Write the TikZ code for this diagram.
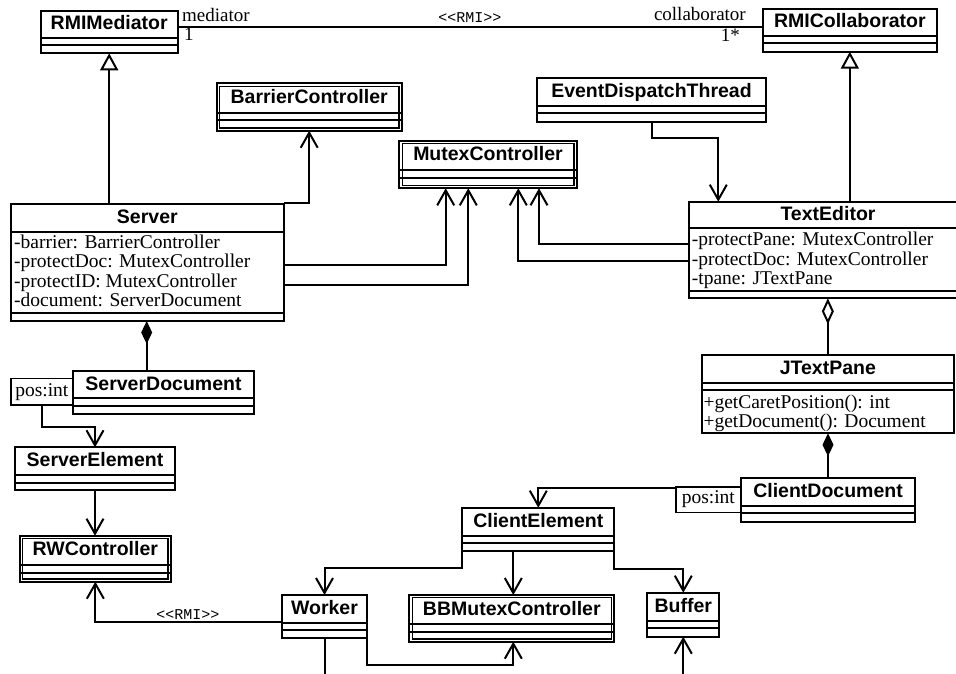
\documentclass[tikz,border=0pt]{standalone}
\usepackage{fontspec}
\setmainfont{Liberation Serif}
\setsansfont{Liberation Sans}
\setmonofont{Liberation Mono}
\usetikzlibrary{arrows.meta}

% class box: name, left, top, right, bottom, first separator y, second separator y, title
\newcommand\umlclass[8]{%
  \node[classframe, minimum width={#4-#2}, minimum height={#5-#3}]
    (#1) at ({(#2+#4)/2},{(#3+#5)/2}) {};
  \draw[compsep] (#2,#6) -- (#4,#6);
  \draw[compsep] (#2,#7) -- (#4,#7);
  \node[ctitle] (#1-title) at ({(#2+#4)/2},{(#3+#6)/2+5.5}) {#8};
}
% active class: same box with a second, inner border
\newcommand\umlactive[8]{%
  \umlclass{#1}{#2}{#3}{#4}{#5}{#6}{#7}{#8}%
  \draw[line width=1.2] ([shift={(2.8,2.8)}]#1.north west) rectangle ([shift={(-2.8,-2.8)}]#1.south east);
}

\tikzset{
  classframe/.style={draw, line width=2.2, rectangle, inner sep=0, outer sep=0},
  compsep/.style={line width=2},
  ctitle/.style={font=\sffamily\bfseries\fontsize{19.5}{19.5}\selectfont, inner sep=0, anchor=base},
  member/.style={font=\fontsize{19.5}{19.5}\selectfont, inner sep=0, anchor=base west},
  rolelabel/.style={font=\fontsize{19}{19}\selectfont, inner sep=0},
  stereo/.style={font=\ttfamily\fontsize{15}{15}\selectfont, inner sep=0, anchor=base},
  qualbox/.style={draw, line width=1.6, inner sep=0, outer sep=0, font=\fontsize{19.5}{19.5}\selectfont},
  link/.style={line width=2},
  assoc/.style={link, -{Straight Barb[length=15pt,width=17pt]}},
  gen/.style={link, -{Triangle[open,length=17pt,width=18pt]}},
  comp/.style={link, -{Diamond[length=23pt,width=11pt]}},
  aggr/.style={link, -{Diamond[open,length=26pt,width=12pt]}},
}

\begin{document}
\begin{tikzpicture}[x=1pt,y=-1pt]
\clip (0,0) rectangle (956,673);
\fill[white] (0,0) rectangle (956,673);

% ---- classes ----
\umlclass{rmimed}{40.7}{10.7}{177.7}{53.3}{37.7}{45.3}{RMIMediator}
\umlclass{rmicol}{762.7}{9}{937}{51.7}{35.7}{43.3}{RMICollaborator}
\umlactive{barrier}{216.7}{83.3}{401.7}{130.7}{112.7}{120.3}{BarrierController}
\umlactive{mutex}{399.3}{140.7}{576.7}{188.3}{170}{178.3}{MutexController}
\umlclass{edt}{537.3}{78.3}{765.7}{121.7}{106}{113.3}{EventDispatchThread}
\umlclass{srv}{10.7}{204}{284}{321}{232.3}{313.3}{Server}
\umlclass{ted}{689}{201.7}{967}{298.3}{228.3}{291}{TextEditor}
\umlclass{sdoc}{72.7}{370.7}{254.3}{414}{398.3}{406}{ServerDocument}
\umlclass{selem}{15}{447.3}{175}{490}{475}{482.7}{ServerElement}
\umlactive{rw}{20}{535.7}{170.7}{581.7}{565}{572.7}{RWController}
\umlclass{jtp}{701.7}{355}{954}{433.3}{382.7}{390}{JTextPane}
\umlclass{cdoc}{741}{478.3}{915}{521.7}{505.7}{513.3}{ClientDocument}
\umlclass{celem}{462.3}{507.7}{614.3}{550.7}{536}{543.3}{ClientElement}
\umlclass{wk}{282.3}{595}{366.7}{638.3}{622.7}{630}{Worker}
\umlactive{bbm}{409.3}{595}{614.3}{641.7}{624}{632.3}{BBMutexController}
\umlclass{buf}{647.3}{592.7}{719.3}{636.7}{621}{628.3}{Buffer}

% ---- members ----
\node[member] (srv-a1) at (14,248.3) {-barrier: BarrierController};
\node[member] (srv-a2) at (14,267.7) {-protectDoc: MutexController};
\node[member] (srv-a3) at (14,287) {-protectID: MutexController};
\node[member] (srv-a4) at (14,306.5) {-document: ServerDocument};

\node[member] (ted-a1) at (691.7,245.5) {-protectPane: MutexController};
\node[member] (ted-a2) at (691.7,265) {-protectDoc: MutexController};
\node[member] (ted-a3) at (691.7,284.5) {-tpane: JTextPane};

\node[member] (jtp-o1) at (703.3,408.3) {+getCaretPosition(): int};
\node[member] (jtp-o2) at (703.3,427.3) {+getDocument(): Document};

% ---- qualifiers ----
\node[qualbox, minimum width=61.7, minimum height=26.7] (qs) at (41.85,391.65) {pos:int};
\node[qualbox, minimum width=65.3, minimum height=25.6] (qc) at (708.35,499.5) {pos:int};

% ---- RMI association at the top ----
\draw[link] (rmimed.east |- 0,26.5) -- (rmicol.west |- 0,26.5);
\node[rolelabel, anchor=base west] (medrole) at (182,21.5) {mediator};
\node[rolelabel, anchor=base west] (medmult) at (184,40.7) {1};
\node[rolelabel, anchor=base east] (colrole) at (746,20.7) {collaborator};
\node[rolelabel, anchor=base east] (colmult) at (740,41) {1*};
\node[stereo] (rmitop) at (470,22.7) {<{}<RMI>{}>};

% ---- generalizations ----
\draw[gen] (rmimed.south |- srv.north) -- (rmimed.south);
\draw[gen] (rmicol.south |- ted.north) -- (rmicol.south);

% ---- Server dependencies ----
\draw[assoc] ([yshift=1]srv.north east) -| (barrier.south);
\draw[assoc] (srv.east |- 0,265) -| (445.7,0 |- mutex.south);
\draw[assoc] (srv.east |- 0,284.5) -| (468.3,0 |- mutex.south);

% ---- TextEditor dependencies ----
\draw[assoc] (ted.west |- 0,244) -| (539,0 |- mutex.south);
\draw[assoc] (ted.west |- 0,261) -| (518.3,0 |- mutex.south);
\draw[assoc] (651.7,0 |- edt.south) -- (651.7,138.3) -| (718.3,0 |- ted.north);

% ---- compositions / aggregation ----
\draw[comp] (146.7,0 |- sdoc.north) -- (146.7,0 |- srv.south);
\draw[aggr] (jtp.north) -- (jtp.north |- ted.south);
\draw[comp] (cdoc.north) -- (cdoc.north |- jtp.south);

% ---- server side ----
\draw[assoc] (qs.south) -- (qs.south |- 0,427.3) -| (selem.north);
\draw[assoc] (selem.south) -- (selem.south |- rw.north);
\draw[assoc] (wk.west |- 0,622.3) -| (rw.south);
\node[stereo] (rmibot) at (188,619) {<{}<RMI>{}>};

% ---- client side ----
\draw[assoc] (qc.west |- 0,488.3) -| (celem.north);
\draw[assoc] (celem.south west) -- (celem.south west |- 0,567.5) -| (wk.north);
\draw[assoc] (513.3,0 |- celem.south) -- (513.3,0 |- bbm.north);
\draw[assoc] (celem.south east) -- (celem.south east |- 0,569) -| (buf.north);

% ---- lines leaving the lower edge ----
\coordinate (wkout) at (324.5,680);
\coordinate (bufin) at (683.3,680);
\draw[link] (wk.south) -- (wkout);
\draw[assoc] (wk.south east) -- (wk.south east |- 0,664.5) -| (513.3,0 |- bbm.south);
\draw[assoc] (bufin) -- (buf.south);
\end{tikzpicture}
\end{document}
